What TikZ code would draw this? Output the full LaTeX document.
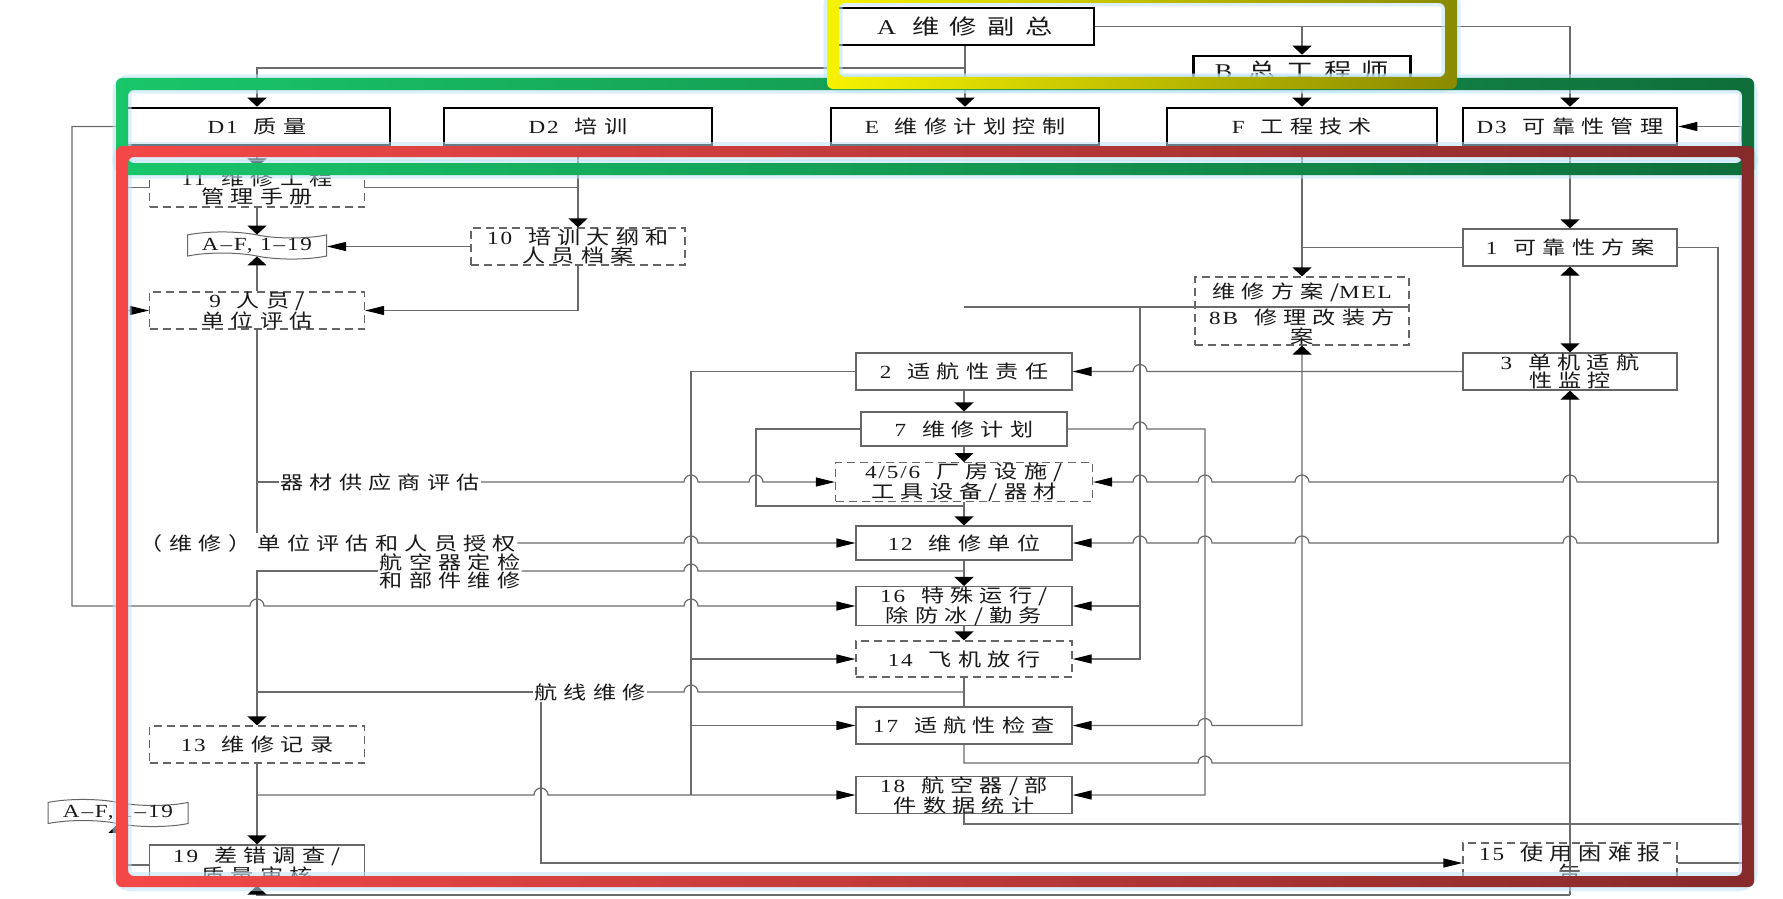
\documentclass[tikz,border=0pt]{standalone}
\usepackage{fontspec}
\setmainfont[FakeStretch=1.25,LetterSpace=10]{Liberation Serif}
\newfontfamily\cjk[FakeStretch=1.25,LetterSpace=34]{Noto Sans CJK SC}
\newfontfamily\cjkbig[FakeStretch=1.3,LetterSpace=50]{Noto Sans CJK SC}
\usetikzlibrary{arrows.meta,shapes.symbols}
\newcommand\zh[1]{{\cjk #1}}
\newcommand\zhb[1]{{\cjkbig #1}}
\newcommand\gp{\hspace{16pt}}
\newcommand\fsn{\fontsize{18.5pt}{16.5pt}\selectfont}
\newcommand\fsbig{\fontsize{21pt}{22pt}\selectfont}
\definecolor{glowc}{HTML}{BFE3F7}
\definecolor{greenA}{HTML}{19C66A}
\definecolor{greenB}{HTML}{0F6E3A}
\definecolor{yelA}{HTML}{F6F200}
\definecolor{yelB}{HTML}{8A8A00}
\definecolor{redA}{HTML}{F44848}
\definecolor{redB}{HTML}{862A2A}
\tikzset{
 bx/.style={draw=black!60, line width=1.2pt, fill=white, minimum width=216pt, minimum height=37pt, inner sep=0pt, align=center, font=\fsn, text=black!90},
 dbx/.style={bx, dash pattern=on 8pt off 5pt},
 tbx/.style={bx, draw=black, line width=2.6pt},
 ln/.style={draw=black!58, line width=1.2pt},
 av/.style={ln, -{Triangle[length=9pt,width=19pt,color=black]}},
 ah/.style={ln, -{Triangle[length=19pt,width=9pt,color=black]}},
 avv/.style={ln, {Triangle[length=9pt,width=19pt,color=black]}-{Triangle[length=9pt,width=19pt,color=black]}},
 hav/.style={ln, {Triangle[length=19pt,width=9pt,color=black]}-{Triangle[length=9pt,width=19pt,color=black]}},
 lbl/.style={inner sep=1pt, font=\fsn, text=black!90},
 doc/.style={draw=black!60, line width=1pt, fill=white, tape, tape bend top=out and in, tape bend bottom=out and in, tape bend height=6pt, minimum width=139pt, minimum height=20pt, inner sep=0pt, font=\fsn, text=black!90},
 hopr/.style args={#1/#2}{insert path={-- ({#1-7},#2) arc[start angle=180,end angle=360,radius=7]}},
 hopl/.style args={#1/#2}{insert path={-- ({#1+7},#2) arc[start angle=0,end angle=-180,radius=7]}},
 glow/.style={draw=glowc, line width=19pt, rounded corners=8pt, opacity=0.55},
}
\begin{document}
\begin{tikzpicture}[x=1pt,y=-1pt]
\useasboundingbox (0,0) rectangle (1783,899);
\fill[white] (0,0) rectangle (1783,899);

% ---- nodes
\node[tbx, minimum width=258pt, minimum height=37pt, font=\fsbig] (A) at (965,26.5) {A\gp\zhb{维修副总}};
\node[tbx, minimum width=217pt, minimum height=30pt, font=\fsbig] (B) at (1302,71) {B\gp\zhb{总工程师}};
\node[tbx, minimum width=266pt] (D1) at (257,126.5) {D1\gp\zh{质量}};
\node[tbx, minimum width=268pt] (D2) at (578,126.5) {D2\gp\zh{培训}};
\node[tbx, minimum width=268pt] (E) at (965,126.5) {E\gp\zh{维修计划控制}};
\node[tbx, minimum width=270pt] (F) at (1302,126.5) {F\gp\zh{工程技术}};
\node[tbx, minimum width=214pt] (D3) at (1570,126.5) {D3\gp\zh{可靠性管理}};

\node[dbx, minimum width=215pt, minimum height=39pt] (n11) at (257,187.5) {11\gp\zh{维修工程}\\\zh{管理手册}};
\node[doc] (doc1) at (257,245.5) {A–F, 1–19};
\node[dbx, minimum width=214pt] (n10) at (578,246.5) {10\gp\zh{培训大纲和}\\\zh{人员档案}};
\node[dbx, minimum width=215pt, minimum height=35pt] (n9) at (257,310.5) {9\gp\zh{人员/}\\\zh{单位评估}};
\node[dbx, minimum width=215pt] (n13) at (257,744.5) {13\gp\zh{维修记录}};
\node[bx, minimum width=215pt, minimum height=40pt] (n19) at (257,865) {19\gp\zh{差错调查/}\\\zh{质量审核}};
\node[doc, minimum width=140pt] (doc2) at (118,813) {A–F, 1–19};

\node[bx] (n2) at (964,371.5) {2\gp\zh{适航性责任}};
\node[bx, minimum width=206pt, minimum height=34pt] (n7) at (964,429) {7\gp\zh{维修计划}};
\node[dbx, minimum width=257pt, minimum height=31pt] (n456) at (964,482) {4/5/6\gp\zh{厂房设施/}\\\zh{工具设备/器材}};
\node[bx, minimum height=34pt] (n12) at (964,543) {12\gp\zh{维修单位}};
\node[bx] (n16) at (964,606) {16\gp\zh{特殊运行/}\\\zh{除防冰/勤务}};
\node[dbx, minimum height=36pt] (n14) at (964,659) {14\gp\zh{飞机放行}};
\node[bx] (n17) at (964,725.5) {17\gp\zh{适航性检查}};
\node[bx, minimum height=36pt] (n18) at (964,795) {18\gp\zh{航空器/部}\\\zh{件数据统计}};

\node[dbx, minimum width=214pt, minimum height=68pt] (n8) at (1302,311) {};
\node[lbl, inner sep=0pt] (n8a) at (1302,292) {\zh{维修方案/}MEL};
\node[lbl, inner sep=0pt, align=center] (n8b) at (1302,327) {8B\gp\zh{修理改装方}\\\zh{案}};
\node[bx, minimum width=214pt] (n1) at (1570,247.5) {1\gp\zh{可靠性方案}};
\node[bx, minimum width=214pt] (n3) at (1570,371.5) {3\gp\zh{单机适航}\\\zh{性监控}};
\node[dbx, minimum width=214pt, minimum height=40pt] (n15) at (1570,863) {15\gp\zh{使用困难报}\\\zh{告}};

\node[lbl] (L1) at (380,482) {\zh{器材供应商评估}};
\node[lbl] (L2) at (328,543) {\zh{（维修）单位评估和人员授权}};
\node[lbl, align=center] (L3) at (450,571) {\zh{航空器定检}\\\zh{和部件维修}};
\node[lbl] (L4) at (590,692) {\zh{航线维修}};

% ---- connectors
\draw[ln] (n8.west |- 0,307) -- (n8.east |- 0,307);
\draw[av] (A.south) -- (E.north);
\draw[av] (A.south |- 0,68) -| (D1.north);
\draw[av] (A.east) -| (D3.north);
\draw[av] (A.east -| B.north) -- (B.north);
\draw[av] (B.south) -- (F.north);
\draw[ah] (D1.west) -- (72,126.5) -- (72,606) [hopr=257/606] [hopr=691/606] -- (n16.west);
\draw[av] (D1.south) -- (n11.north);
\draw[av] (D2.south) -- (n10.north);
\draw[ln] (n11.east) -- (n11.east -| D2.south);
\draw[av] (n11.south) -- (doc1.north);
\draw[ah] (n11.west) -- (122,187.5) |- (n9.west);
\draw[ah] (n10.west) -- (n10.west -| doc1.east);
\draw[ah] (n10.south) |- (n9.east);
\draw[av] (n9.north) -- (doc1.south);
\draw[ln] (n9.south) -- (n9.south |- L2.north);
\draw[ln] (n9.south |- L1.west) -- (L1.west);
\draw[ah] (L1.east) [hopr=691/482] [hopr=756/482] -- (n456.west);
\draw[ah] (L2.east) [hopr=691/543] -- (n12.west);
\draw[ln] (n2.west) -- (691,371.5) -- (691,795);
\draw[ah] (691,659) -- (n14.west);
\draw[ah] (691,725.5) -- (n17.west);
\draw[ln] (n7.west) -- (756,429) -- (756,506) -- (964,506);
\draw[av] (n2.south) -- (n7.north);
\draw[av] (n7.south) -- (n456.north);
\draw[av] (n456.south) -- (n12.north);
\draw[av] (n12.south) -- (n16.north);
\draw[av] (n16.south) -- (n14.north);
\draw[ln] (n14.south) -- (n17.north);
\draw[ln] (964,571) [hopl=691/571] -- (L3.east);
\draw[av] (L3.west) -- (257,571) -- (n13.north);
\draw[ln] (964,692) [hopl=691/692] -- (L4.east);
\draw[ln] (L4.west) -- (257,692);
\draw[ah] (L4.south -| 541,0) -- (541,863) -- (n15.west);
\draw[av] (n13.south) -- (n19.north);
\draw[ah] (257,795) [hopr=541/795] -- (n18.west);
\draw[av] (n19.west) -| (doc2.south);
\draw[av] (1570,895) -- (257,895) -- (n19.south);

\draw[ln] (n8.west |- 0,307) -- (964,307);
\draw[ah] (1140,307) -- (1140,659) -- (n14.east);
\draw[ah] (n16.east -| 1140,0) -- (n16.east);
\draw[av] (F.south) -- (n8.north);
\draw[ln] (n1.west) -- (n1.west -| F.south);
\draw[av] (D3.south) -- (n1.north);
\draw[avv] (n1.south) -- (n3.north);
\draw[ah] (n3.west) [hopl=1140/371.5] -- (n2.east);
\draw[ah] (n7.east) [hopr=1140/429] -- (1205,429) |- (n18.east);
\draw[ln] (n1.east) -- (1718,247.5) -- (1718,543);
\draw[ah] (1718,543) [hopl=1570/543] [hopl=1302/543] [hopl=1205/543] [hopl=1140/543] -- (n12.east);
\draw[ah] (1718,482) [hopl=1570/482] [hopl=1302/482] [hopl=1205/482] [hopl=1140/482] -- (n456.east);
\draw[hav] (n17.east) [hopr=1205/725.5] -- (1302,725.5) -- (n8.south);
\draw[ln] (n17.south) -- (964,763) [hopr=1205/763] -- (1570,763);
\draw[ah] (n18.south) -- (964,824) -- (1742,824) -- (1742,126.5) -- (D3.east);
\draw[av] (1570,895) -- (n3.south);
\draw[ln] (n15.east) -- (1742,863);

% ---- highlight frames
\draw[glow] (122,84) rectangle (1748,169);
\draw[glow] (833,-3) rectangle (1451,83);
\draw[glow] (122,151.5) rectangle (1748,881.5);
\shade[left color=greenA, right color=greenB, even odd rule, rounded corners=6pt] (116,78) rectangle (1754,175) (128,90) rectangle (1742,163);
\shade[left color=yelA, right color=yelB, even odd rule, rounded corners=6pt] (827,-9) rectangle (1457,89) (839,3) rectangle (1445,77);
\shade[left color=redA, right color=redB, even odd rule, rounded corners=6pt] (116,146) rectangle (1754,887) (128,157) rectangle (1742,876);
\end{tikzpicture}
\end{document}
